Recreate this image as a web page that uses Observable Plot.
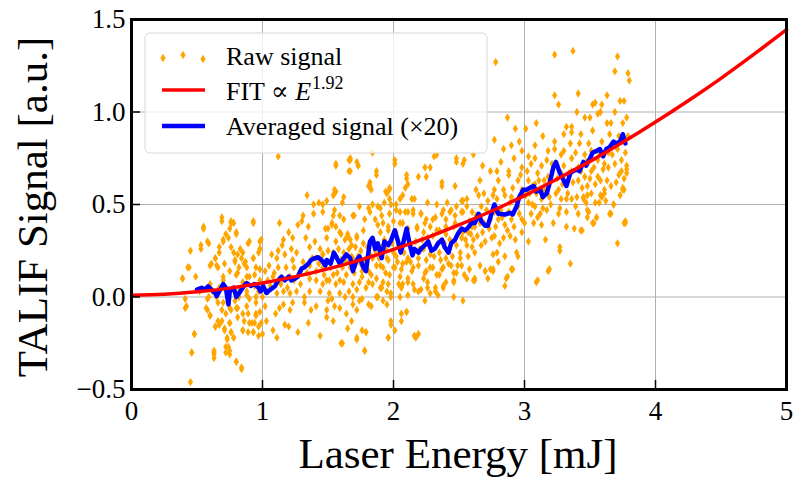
<!DOCTYPE html>
<html><head><meta charset="utf-8">
<script src="https://cdn.jsdelivr.net/npm/d3@7"></script>
<script src="https://cdn.jsdelivr.net/npm/@observablehq/plot@0.6"></script>
<style>body{margin:0;background:#fff}#chart{width:793px;height:479px}</style>
</head><body><div id="chart"></div>
<script>
const xTicks = [0, 1, 2, 3, 4, 5];
const yTicks = [-0.5, 0, 0.5, 1, 1.5];
const xTitle = "Laser Energy [mJ]";
const yTitle = "TALIF Signal [a.u.]";
const legendLabels = ["Raw signal", "FIT \u221D ", "E", "1.92", "Averaged signal (\u00D720)"];

// Raw signal scatter [energy mJ, signal a.u.]
const rawSignal = [
[0.45,-0.46],[0.46,-0.30],[0.48,-0.20],[0.41,-0.06],[0.39,0.10],[0.44,0.16],[0.45,0.25],[0.53,0.26],[0.55,0.37],[0.59,0.29],[0.49,0.11],[0.69,0.41],[0.76,0.40],[0.75,0.37],[0.80,0.34],[0.93,0.40],[0.89,0.29],[0.98,0.30],[0.74,0.32],[0.70,0.30],[0.67,0.24],[0.64,0.21],[0.60,0.17],[0.66,0.16],[0.78,0.24],[0.81,0.23],[0.85,0.24],[0.87,0.19],[0.93,0.21],[0.97,0.24],[0.79,0.19],[0.75,0.14],[0.80,0.12],[0.90,0.11],[0.82,0.00],[0.79,-0.02],[0.58,-0.07],[0.60,-0.10],[0.66,-0.13],[0.64,-0.16],[0.67,-0.15],[0.71,-0.18],[0.75,-0.14],[0.76,-0.19],[0.78,-0.22],[0.73,-0.23],[0.74,-0.27],[0.75,-0.29],[0.72,-0.30],[0.63,-0.29],[0.63,-0.31],[0.80,-0.35],[0.84,-0.38],[0.69,-0.07],[0.72,-0.09],[0.76,-0.07],[0.80,-0.06],[0.85,-0.09],[0.89,-0.09],[0.95,-0.10],[0.92,-0.14],[0.97,-0.16],[0.93,-0.19],[0.89,-0.19],[0.85,-0.18],[1.00,-0.20],[1.03,-0.13],[0.99,-0.14],[1.02,-0.05],[1.10,-0.09],[1.08,-0.18],[1.11,-0.22],[1.17,-0.15],[1.20,-0.16],[1.27,-0.19],[1.35,-0.14],[1.44,-0.21],[1.61,-0.25],[1.13,-0.06],[1.16,-0.04],[1.21,-0.07],[1.23,-0.03],[1.32,-0.03],[1.37,-0.07],[1.41,-0.05],[1.49,-0.07],[1.53,-0.01],[1.59,-0.06],[1.49,-0.11],[1.54,-0.13],[1.64,-0.09],
[1.12,0.76],[1.34,0.55],[1.39,0.50],[1.43,0.51],[1.46,0.50],[1.46,0.46],[1.39,0.45],[1.31,0.44],[1.30,0.41],[1.27,0.39],[1.13,0.40],[1.20,0.35],[1.23,0.32],[1.16,0.31],[1.15,0.28],[1.12,0.25],[1.07,0.23],[1.11,0.21],[1.17,0.23],[1.22,0.26],[1.26,0.24],[1.23,0.20],[1.35,0.38],[1.33,0.32],[1.36,0.27],[1.40,0.30],[1.44,0.26],[1.49,0.32],[1.50,0.37],[1.53,0.40],[1.56,0.38],[1.59,0.35],[1.59,0.44],[1.54,0.55],[1.56,0.57],[1.62,0.54],[1.61,0.51],[1.56,0.71],[1.66,0.74],[1.54,0.44],[1.56,0.30],[1.63,0.31],[1.65,0.34],[1.62,0.24],[1.54,0.24],[1.46,0.23],[1.41,0.21],[1.36,0.17],[1.41,0.14],[1.46,0.16],[1.36,0.10],[1.41,0.09],[1.46,0.07],[1.51,0.09],[1.56,0.07],[1.62,0.08],[1.66,0.03],[1.59,0.02],[1.51,0.02],[1.44,0.03],[1.36,0.03],[1.32,0.00],[1.26,0.03],[1.21,0.02],[1.16,0.03],[1.11,0.02],[1.04,0.03],[1.04,0.09],[1.08,0.11],[1.15,0.10],[1.21,0.11],[1.24,0.16],[1.18,0.16],[1.12,0.16],[1.05,0.17],[1.02,0.14],[0.98,0.26],[0.95,0.16],[0.98,0.09],[0.94,0.06],[0.88,0.03],[0.85,0.08],[0.82,0.16],[0.88,0.16],[0.70,0.09],[0.67,0.05],[0.62,0.03],[0.60,0.07],[0.59,0.00],[0.65,0.00],[0.70,-0.03],[0.75,-0.06],[0.82,0.03],[0.90,-0.01],[0.95,-0.03],[1.00,0.00],[0.97,0.03],
[1.67,0.74],[1.73,0.71],[1.67,0.68],[1.87,0.66],[1.82,0.60],[1.83,0.58],[1.94,0.57],[1.97,0.58],[2.01,0.72],[2.10,0.64],[2.11,0.61],[2.09,0.59],[2.05,0.53],[2.02,0.50],[1.97,0.53],[1.93,0.51],[1.90,0.48],[1.84,0.50],[1.82,0.46],[1.74,0.49],[1.69,0.44],[1.78,0.42],[1.86,0.42],[1.91,0.44],[1.97,0.45],[2.05,0.46],[2.11,0.46],[2.15,0.47],[2.16,0.53],[2.24,0.70],[2.25,0.65],[2.31,0.76],[2.37,0.60],[2.47,0.60],[2.48,0.73],[2.53,0.72],[2.68,0.71],[2.74,0.68],[2.66,0.63],[2.69,0.56],[2.76,0.55],[2.65,0.55],[2.53,0.52],[2.56,0.49],[2.48,0.49],[2.43,0.46],[2.38,0.47],[2.33,0.50],[2.30,0.42],[2.25,0.42],[2.21,0.45],[2.40,0.42],[2.47,0.44],[2.53,0.46],[2.60,0.46],[2.71,0.47],[2.77,0.46],[2.74,0.42],[2.68,0.35],[2.75,0.32],[2.76,0.23],[2.67,0.28],[2.61,0.31],[2.62,0.24],[2.56,0.28],[2.51,0.24],[2.52,0.17],[2.58,0.15],[2.66,0.17],[2.70,0.14],[2.76,0.14],[2.72,0.10],[2.62,0.10],[2.56,0.10],[2.48,0.13],[2.46,0.08],[2.40,0.08],[2.35,0.12],[2.30,0.16],[2.25,0.14],[2.23,0.10],[2.26,0.08],[2.32,0.05],[2.28,0.02],[2.24,-0.02],[2.38,0.06],[2.34,0.01],[2.53,-0.02],[2.46,0.00],[2.19,0.03],[2.15,0.07],[2.11,0.10],[2.07,0.07],[2.05,0.11],[2.15,0.16],[2.19,0.21],[2.15,0.24],[2.11,0.21],[2.07,0.18],[2.01,0.16],[1.97,0.12],[1.92,0.08],[1.95,0.03],[1.90,0.05],[1.84,0.07],[1.79,0.05],[1.74,0.08],[1.72,0.04],[1.69,0.00],[1.74,-0.02],[1.81,-0.04],[1.87,0.00],[1.92,-0.02],[1.98,0.00],[2.05,0.00],[2.11,0.01],[2.10,-0.08],[1.98,-0.13],[1.72,-0.07],[1.68,-0.13],[1.76,-0.18],[1.72,-0.22],[1.79,-0.19],[1.96,-0.22],[2.17,-0.22],[2.16,-0.21],[1.78,-0.29],[2.01,-0.18],[1.68,0.28],[1.67,0.31],[1.72,0.33],[1.77,0.29],[1.90,0.35],[1.93,0.31],[1.96,0.38],[2.02,0.35],[2.07,0.40],[2.18,0.37],[2.23,0.35],[2.28,0.38],[2.35,0.36],[2.40,0.34],[2.46,0.38],[2.53,0.35],[2.60,0.38],[2.66,0.40],[1.79,0.19],[1.84,0.21],[1.90,0.17],[1.95,0.21],[2.00,0.24],[1.69,0.21],[1.67,0.16],[1.76,0.14],[1.83,0.12],[2.23,0.26],[2.28,0.23],[2.35,0.24],[2.40,0.21],[2.44,0.17],[2.38,0.16],
[2.78,1.27],[3.23,1.31],[3.37,1.33],[3.71,1.30],[3.69,1.22],[3.79,1.21],[3.80,1.17],[3.23,1.09],[3.26,1.04],[3.41,1.10],[3.63,1.09],[3.73,1.06],[3.76,1.06],[3.54,1.05],[3.59,1.04],[3.58,1.00],[3.56,0.99],[3.52,1.04],[3.40,1.00],[3.46,0.97],[3.50,0.97],[3.69,1.00],[3.78,0.97],[2.87,0.97],[3.09,0.94],[2.93,0.91],[3.01,0.91],[3.32,0.92],[3.36,0.92],[3.63,0.94],[3.66,0.94],[3.75,0.94],[3.30,0.88],[3.36,0.89],[3.43,0.88],[3.52,0.90],[3.59,0.84],[3.65,0.88],[3.72,0.87],[3.79,0.87],[2.77,0.85],[2.90,0.82],[2.96,0.84],[3.14,0.87],[3.23,0.84],[3.35,0.83],[3.42,0.83],[3.49,0.83],[3.08,0.82],[3.23,0.80],[3.30,0.79],[3.18,0.79],[2.98,0.79],[2.84,0.80],[2.92,0.75],[3.03,0.76],[3.08,0.75],[3.17,0.74],[3.28,0.77],[3.36,0.75],[3.46,0.77],[3.51,0.79],[3.64,0.78],[2.79,0.68],[2.82,0.73],[2.88,0.68],[2.98,0.70],[3.05,0.72],[3.10,0.67],[3.13,0.71],[3.21,0.68],[3.28,0.67],[3.36,0.68],[3.41,0.70],[3.51,0.68],[3.56,0.74],[3.61,0.72],[3.69,0.72],[3.78,0.69],[2.80,0.63],[2.88,0.66],[2.95,0.63],[3.03,0.63],[3.08,0.61],[3.15,0.63],[3.26,0.58],[3.32,0.61],[3.41,0.63],[3.46,0.65],[3.54,0.61],[3.56,0.65],[3.63,0.63],[3.72,0.66],[3.75,0.58],[3.78,0.67],[2.77,0.58],[2.85,0.55],[2.90,0.54],[2.98,0.58],[3.04,0.56],[3.09,0.56],[3.13,0.53],[3.19,0.54],[3.28,0.53],[3.32,0.53],[3.36,0.53],[3.40,0.54],[3.45,0.53],[3.51,0.56],[3.59,0.54],[3.61,0.56],[3.68,0.50],[2.77,0.49],[2.82,0.47],[2.89,0.51],[2.95,0.49],[3.03,0.51],[3.08,0.49],[3.12,0.45],[3.17,0.47],[3.26,0.45],[3.32,0.46],[3.41,0.45],[3.49,0.46],[3.55,0.43],[3.65,0.45],[3.77,0.40],[2.80,0.42],[2.85,0.39],[2.90,0.42],[2.98,0.42],[3.05,0.45],[3.07,0.40],[3.13,0.39],[3.22,0.40],[3.32,0.38],[3.38,0.37],[3.43,0.36],[3.52,0.40],[2.77,0.33],[2.84,0.32],[2.89,0.33],[2.93,0.31],[2.98,0.35],[3.03,0.30],[3.16,0.31],[3.27,0.25],[3.71,0.29],[2.79,0.24],[2.85,0.22],[2.94,0.24],[2.95,0.22],[2.80,0.19],[2.91,0.15],[2.86,0.10],[2.85,0.06],[2.76,0.15],[3.09,0.08],[3.18,0.14],[3.35,0.18],
[3.48,0.60],[3.61,0.58],[3.76,0.58],[3.45,0.54],[3.58,0.55],[3.47,0.51],[3.57,0.51],[3.68,0.50],[3.66,0.45],[3.48,0.47],[3.48,0.43],[3.55,0.43],[3.53,0.40],[3.76,0.40],[3.44,0.36],[3.75,0.59],[3.78,0.71],[3.74,0.68],[3.77,0.41],[3.10,0.09],[3.19,0.15],[3.27,0.27],[2.87,0.11],[2.90,0.15],[2.70,0.14],[2.74,0.15],[2.62,0.09],
[1.84,0.78],[1.73,0.71],[1.66,0.68],[1.55,0.56],[1.81,0.60],[0.55,0.37],
[1.56,0.72],[1.67,0.75],[1.72,0.73],[1.87,0.68],[2.01,0.74],[2.10,0.66],[2.19,0.65],[2.28,0.70],[2.33,0.77],[2.37,0.62],[2.48,0.75],[2.54,0.74],[2.61,0.77],[2.63,0.58],[2.56,0.53],[2.52,0.52],[2.41,0.51],[2.26,0.51],[2.14,0.53],[2.07,0.55],[1.97,0.59],[1.95,0.56],[1.82,0.62],[1.55,0.58],[1.49,0.52],[1.55,0.47],[1.62,0.42],[1.70,0.44],[1.81,0.48],[1.88,0.49],[1.98,0.50],[2.02,0.47],[2.09,0.46],[2.15,0.45],[2.21,0.45],[2.32,0.43],[2.37,0.45],[2.44,0.47],[2.52,0.46],[2.58,0.41],[1.48,0.37],[1.53,0.39],[1.60,0.34],[1.65,0.33],[1.72,0.32],[1.77,0.36],[1.88,0.39],[1.92,0.40],[1.96,0.36],[2.00,0.41],[2.05,0.40],[2.11,0.37],[2.18,0.38],[2.24,0.40],[2.26,0.32],[2.33,0.36],[2.40,0.38],[2.47,0.40],[2.52,0.32],[2.57,0.35],[2.62,0.38],[1.46,0.23],[1.50,0.25],[1.56,0.22],[1.60,0.20],[1.68,0.22],[1.73,0.22],[1.78,0.20],[1.83,0.22],[1.87,0.17],[1.92,0.16],[1.96,0.20],[2.00,0.16],[2.02,0.22],[2.06,0.15],[2.10,0.19],[2.14,0.14],[2.19,0.17],[2.24,0.13],[2.28,0.16],[2.33,0.12],[2.37,0.15],[2.42,0.18],[2.46,0.13],[2.49,0.17],[2.54,0.12],[2.61,0.09],[1.49,0.09],[1.54,0.12],[1.59,0.09],[1.64,0.12],[1.69,0.07],[1.76,0.11],[1.81,0.08],[1.87,0.10],[1.91,0.05],[1.96,0.07],[2.04,0.07],[2.11,0.08],[2.16,0.04],[2.21,0.04],[2.26,0.05],[2.32,0.03],[2.38,0.05],[2.46,0.09],[1.50,-0.02],[1.55,-0.05],[1.63,0.00],[1.69,-0.04],[1.76,-0.01],[1.83,-0.05],[1.88,0.00],[1.95,-0.04],[1.98,0.02],[2.06,0.05],[2.06,-0.09],[2.10,-0.08],[2.06,-0.13],[1.98,-0.15],[1.79,-0.19],[1.65,-0.17],[1.72,-0.23],[1.60,-0.25],[1.78,-0.29],[1.96,-0.22],[2.16,-0.21],[2.19,-0.20],
[0.39,0.10],[0.43,0.16],[0.53,0.28],[0.55,0.38],[0.58,0.30],[0.64,0.21],[0.61,0.18],[0.69,0.43],[0.70,0.31],[0.76,0.41],[0.78,0.40],[0.80,0.35],[0.72,0.34],[0.76,0.27],[0.83,0.26],[0.84,0.21],[0.90,0.30],[0.93,0.41],[0.99,0.31],[0.98,0.26],[0.67,0.27],[0.65,0.17],[0.71,0.18],[0.79,0.20],[0.86,0.18],[0.93,0.21],[0.98,0.15],[0.70,0.11],[0.81,0.13],[0.88,0.11],[0.94,0.12],[0.41,-0.01],[0.42,-0.05],[0.57,-0.06],[0.60,-0.10],[0.64,-0.16],[0.69,-0.13],[0.71,-0.17],[0.75,-0.14],[0.76,-0.19],[0.73,-0.22],[0.78,-0.22],[0.72,-0.27],[0.75,-0.31],[0.80,-0.35],[0.84,-0.39],[0.63,-0.30],[0.63,-0.33],[0.46,-0.30],[0.48,-0.20],[0.81,-0.11],[0.86,-0.13],[0.85,-0.18],[0.90,-0.14],[0.93,-0.19],[0.97,-0.21],[0.94,-0.14],[0.81,-0.06],[0.88,-0.05],[0.95,-0.09],[0.98,-0.08],[0.58,-0.01],[0.66,-0.03],[0.55,0.04],[0.52,0.03],[0.88,0.01],[0.95,0.00],
[1.06,0.06],[1.09,0.13],[1.14,0.07],[1.19,0.05],[1.24,0.09],[1.28,0.13],[1.29,0.07],[1.31,0.19],[1.34,0.13],[1.38,0.21],[1.43,0.18],[1.47,0.12],[1.52,0.16],[1.57,0.13],[1.58,0.26],[1.61,0.16],[1.64,0.19],[1.66,0.26],[1.70,0.13],[1.71,0.27],[1.75,0.18],[1.75,0.25],[1.80,0.27],[1.81,0.14],[1.85,0.30],[1.86,0.25],[1.89,0.21],[1.91,0.27],[1.94,0.13],[1.94,0.26],[1.99,0.29],[2.03,0.19],[2.04,0.28],[2.08,0.24],[2.09,0.32],[2.13,0.28],[2.13,0.19],[2.17,0.30],[2.20,0.26],[2.22,0.31],[2.25,0.20],[2.27,0.28],[2.30,0.33],[2.31,0.22],[2.34,0.29],[2.36,0.20],[2.39,0.29],[2.41,0.25],[2.43,0.31],[2.45,0.22],[2.48,0.28],[2.50,0.35],[2.51,0.21],[2.55,0.31],[2.57,0.22],[2.59,0.34],[2.60,0.27],[2.63,0.44],[2.64,0.33],[2.67,0.49],[2.69,0.40],[2.70,0.30],[2.72,0.52],[2.73,0.37],[2.78,0.38],[2.79,0.53],[2.81,0.29],[2.83,0.43],[2.84,0.58],[2.87,0.36],[2.88,0.46],[2.91,0.59],[2.92,0.38],[2.94,0.52],[2.96,0.45],[2.97,0.66],[3.00,0.40],[3.01,0.55],[3.02,0.68],[3.06,0.50],[3.06,0.60],[3.10,0.43],[3.11,0.63],[3.14,0.48],[3.15,0.58],[3.18,0.65],[3.20,0.50],[3.21,0.72],[3.24,0.56],[3.25,0.64],[3.27,0.48],[3.29,0.61],[3.30,0.71],[3.33,0.56],[3.34,0.67],[3.37,0.62],[3.39,0.78],[3.39,0.49],[3.43,0.68],[3.44,0.59],[3.47,0.73],[3.48,0.55],[3.50,0.64],[3.53,0.70],[3.54,0.51],[3.57,0.78],[3.58,0.63],[3.60,0.69],[3.62,0.52],[3.64,0.70],[3.66,0.60],[3.67,0.77],[3.70,0.62],[3.71,0.80],[3.73,0.55],[3.74,0.74],[3.76,0.64],[3.77,0.78]
];

// Averaged signal (blue)
const avgEnergy = [0.50,0.535,0.56,0.585,0.61,0.64,0.65,0.67,0.70,0.72,0.74,0.75,0.78,0.80,0.815,0.84,0.87,0.88,0.91,0.94,0.97,0.985,1.005,1.03,1.06,1.095,1.12,1.145,1.17,1.20,1.22,1.25,1.27,1.30,1.32,1.35,1.37,1.40,1.425,1.45,1.48,1.49,1.52,1.545,1.565,1.59,1.62,1.64,1.67,1.69,1.72,1.74,1.77,1.79,1.82,1.84,1.86,1.88,1.91,1.93,1.96,1.98,2.01,2.035,2.055,2.07,2.10,2.125,2.145,2.16,2.19,2.21,2.24,2.265,2.29,2.315,2.34,2.37,2.39,2.42,2.44,2.47,2.49,2.52,2.545,2.57,2.595,2.62,2.65,2.67,2.70,2.72,2.75,2.77,2.80,2.85,2.89,2.91,2.94,2.96,2.99,3.015,3.04,3.07,3.09,3.12,3.14,3.17,3.19,3.22,3.24,3.27,3.30,3.32,3.35,3.37,3.40,3.42,3.45,3.47,3.50,3.52,3.55,3.575,3.60,3.625,3.65,3.68,3.70,3.73,3.75,3.77];
const avgSignal = [0.04,0.05,0.04,0.058,0.04,0.02,0.005,0.03,0.07,0.05,-0.04,0.03,0.05,0.00,0.014,0.04,0.07,0.075,0.06,0.07,0.05,0.03,0.06,0.022,0.04,0.058,0.09,0.11,0.09,0.11,0.09,0.10,0.11,0.155,0.16,0.18,0.20,0.21,0.215,0.20,0.17,0.20,0.18,0.24,0.215,0.18,0.21,0.23,0.21,0.14,0.20,0.22,0.16,0.14,0.30,0.32,0.26,0.29,0.21,0.30,0.28,0.305,0.36,0.30,0.24,0.28,0.37,0.28,0.225,0.26,0.24,0.26,0.28,0.30,0.25,0.26,0.29,0.31,0.27,0.24,0.29,0.31,0.34,0.37,0.36,0.375,0.40,0.40,0.45,0.41,0.385,0.385,0.455,0.50,0.45,0.446,0.455,0.446,0.49,0.54,0.58,0.58,0.59,0.60,0.57,0.58,0.54,0.56,0.61,0.70,0.73,0.67,0.63,0.60,0.67,0.68,0.69,0.68,0.73,0.71,0.75,0.78,0.79,0.80,0.76,0.80,0.81,0.84,0.83,0.84,0.88,0.83];

// Fit curve (red)
const fitEnergy = [0,0.25,0.5,0.75,1,1.25,1.5,1.75,2,2.25,2.5,2.75,3,3.25,3.5,3.75,4,4.25,4.5,4.75,5];
const fitSignal = [0.01,0.015,0.028,0.048,0.076,0.11,0.152,0.201,0.257,0.32,0.39,0.465,0.548,0.638,0.733,0.836,0.946,1.061,1.182,1.311,1.445];

const ORANGE = "#ffa500", RED = "#ff0000", BLUE = "#0000ff";
const FONT = "'Liberation Serif', 'DejaVu Serif', serif";

const thinDiamond = {
  draw(ctx, size) {
    const r = Math.sqrt(size / Math.PI);
    ctx.moveTo(0, -r * 1.15);
    ctx.lineTo(r * 0.72, 0);
    ctx.lineTo(0, r * 1.15);
    ctx.lineTo(-r * 0.72, 0);
    ctx.closePath();
  }
};

const avgData = avgEnergy.map((e, i) => ({e, s: avgSignal[i]}));
const fitData = fitEnergy.map((e, i) => ({e, s: fitSignal[i]}));
const fmtY = d => (d < 0 ? "\u2212" + (-d).toFixed(1) : d.toFixed(1));

const plot = Plot.plot({
  width: 793, height: 479,
  marginLeft: 131, marginRight: 7, marginTop: 19, marginBottom: 90,
  style: {fontFamily: FONT, fontSize: "27px", background: "white", color: "black", overflow: "visible"},
  x: {domain: [0, 5]},
  y: {domain: [-0.5, 1.5]},
  marks: [
    Plot.gridX(xTicks, {stroke: "#b0b0b0", strokeOpacity: 1, strokeWidth: 1}),
    Plot.gridY(yTicks, {stroke: "#b0b0b0", strokeOpacity: 1, strokeWidth: 1}),
    Plot.dot(rawSignal, {x: d => d[0], y: d => d[1], r: 3.6, symbol: thinDiamond, fill: ORANGE, stroke: "none"}),
    Plot.line(avgData, {x: "e", y: "s", stroke: BLUE, strokeWidth: 4.5, strokeLinejoin: "round"}),
    Plot.line(fitData, {x: "e", y: "s", stroke: RED, strokeWidth: 3.5, curve: "natural"}),
    Plot.frame({stroke: "black", strokeWidth: 3}),
    Plot.axisX(xTicks, {tickSize: -9, tickPadding: 20, strokeWidth: 1.5, tickFormat: d => String(d), label: null, fontSize: 27}),
    Plot.axisY(yTicks, {tickSize: -9, tickPadding: 15, strokeWidth: 1.5, tickFormat: fmtY, label: null, fontSize: 27})
  ]
});
document.getElementById("chart").appendChild(plot);

const svg = d3.select(plot);
// axis titles
svg.append("text").attr("x", 458).attr("y", 468).attr("text-anchor", "middle")
  .attr("font-family", FONT).attr("font-size", 43).attr("fill", "black").text(xTitle);
svg.append("text").attr("transform", "translate(47,207) rotate(-90)").attr("text-anchor", "middle")
  .attr("font-family", FONT).attr("font-size", 43).attr("fill", "black").text(yTitle);

// legend
const lg = svg.append("g").attr("font-family", FONT).attr("font-size", 26).attr("fill", "black").attr("text-anchor", "start");
lg.append("rect").attr("x", 145).attr("y", 33).attr("width", 342).attr("height", 120).attr("rx", 5)
  .attr("fill", "white").attr("fill-opacity", 0.8).attr("stroke", "#d6d6d6").attr("stroke-width", 1);
const dPath = d3.path(); thinDiamond.draw(dPath, 3.6 * 3.6 * Math.PI);
[[163, 58], [183, 55], [203, 59]].forEach(([x, y]) =>
  lg.append("path").attr("d", dPath.toString()).attr("transform", `translate(${x},${y})`).attr("fill", ORANGE));
lg.append("line").attr("x1", 162).attr("x2", 205).attr("y1", 90).attr("y2", 90).attr("stroke", RED).attr("stroke-width", 3.5);
lg.append("line").attr("x1", 162).attr("x2", 205).attr("y1", 126).attr("y2", 126).attr("stroke", BLUE).attr("stroke-width", 4.5);
lg.append("text").attr("x", 226).attr("y", 65).attr("text-anchor", "start").text(legendLabels[0]);
const t2 = lg.append("text").attr("x", 226).attr("y", 100).attr("text-anchor", "start");
t2.append("tspan").text(legendLabels[1]);
t2.append("tspan").attr("font-style", "italic").text(legendLabels[2]);
t2.append("tspan").attr("font-size", 18).attr("dy", -11).attr("dx", 1).text(legendLabels[3]);
lg.append("text").attr("x", 226).attr("y", 135).attr("text-anchor", "start").text(legendLabels[4]);
</script>
</body></html>
